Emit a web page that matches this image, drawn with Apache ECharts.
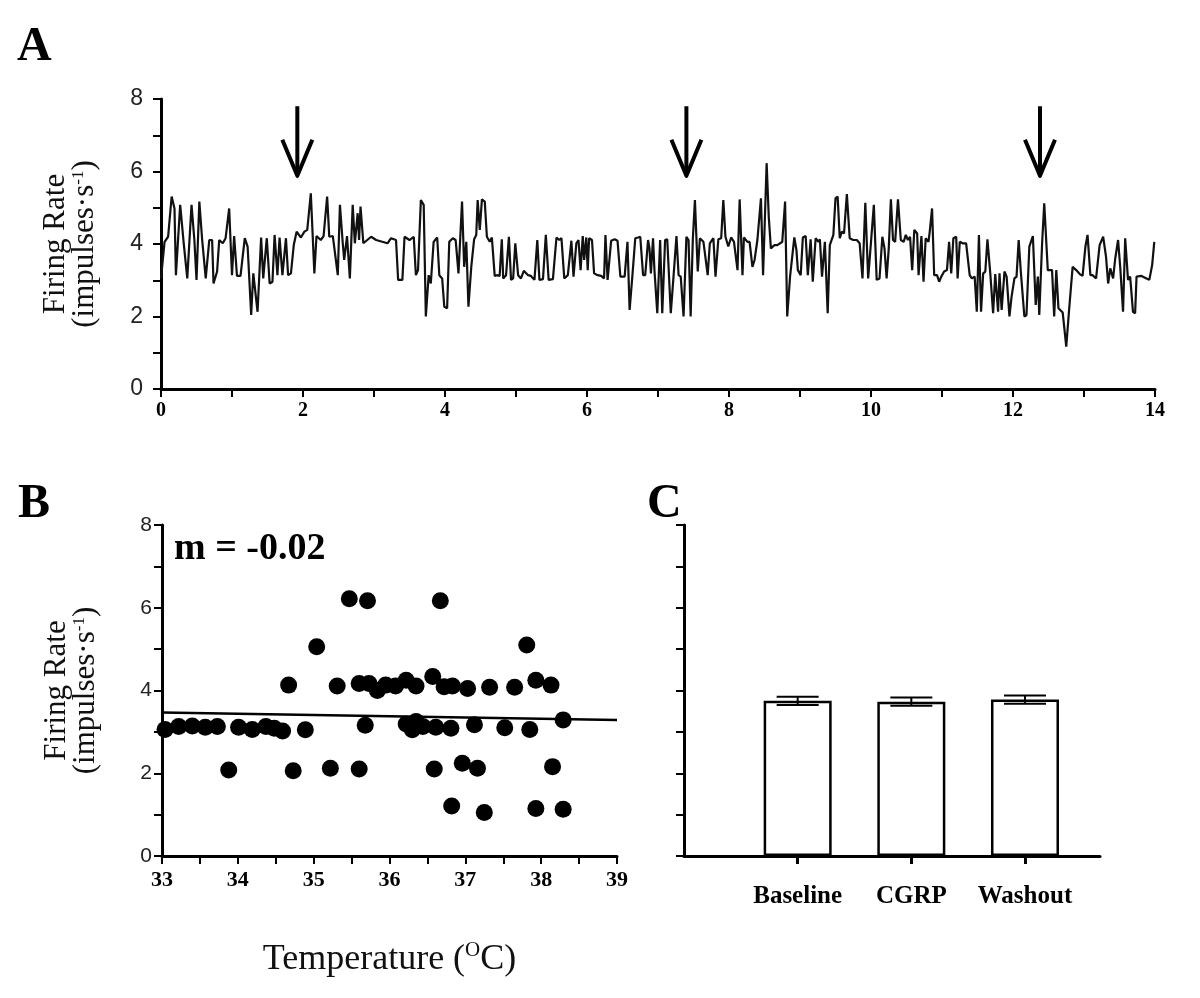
<!DOCTYPE html>
<html>
<head>
<meta charset="utf-8">
<script src="https://cdn.jsdelivr.net/npm/echarts@6/dist/echarts.min.js"></script>
<style>html,body{margin:0;padding:0;background:#fff;}#chart{width:1200px;height:998px;}</style>
</head>
<body>
<div id="chart"></div>
<script>
// ---------- Panel A: firing rate trace ----------
const timeMin = [
0,0.05,0.10,0.15,0.19,0.21,0.27,0.32,0.37,0.43,0.47,0.50,0.54,0.58,0.63,0.68,0.72,0.74,0.79,0.82,
0.87,0.91,0.96,1.00,1.03,1.07,1.12,1.18,1.22,1.27,1.30,1.36,1.41,1.44,1.49,1.53,1.57,1.60,1.64,1.67,
1.71,1.76,1.79,1.83,1.87,1.91,1.97,2.02,2.06,2.11,2.16,2.19,2.25,2.29,2.34,2.37,2.42,2.49,2.52,2.56,
2.58,2.62,2.66,2.70,2.73,2.77,2.79,2.81,2.85,2.96,3.03,3.19,3.24,3.31,3.34,3.40,3.43,3.50,
3.52,3.56,3.59,3.62,3.66,3.70,3.73,3.77,3.80,3.84,3.89,3.92,3.96,3.99,4.03,4.06,4.11,4.15,4.19,4.24,
4.27,4.30,4.33,4.37,4.41,4.44,4.46,4.49,4.52,4.56,4.59,4.63,4.66,4.70,4.73,4.77,4.80,4.82,4.86,4.90,
4.93,4.96,4.99,5.03,5.07,5.11,5.17,5.21,5.26,5.30,5.33,5.38,5.42,5.46,5.52,5.57,5.61,5.64,5.68,5.73,
5.78,5.81,5.85,5.88,5.91,5.94,5.96,5.99,6.01,6.03,6.07,6.10,6.15,6.20,6.24,6.26,6.29,6.34,6.39,6.43,
6.47,6.53,6.57,6.60,6.64,6.68,6.72,6.75,6.79,6.82,6.86,6.88,6.90,6.93,
6.95,6.99,7.03,7.06,7.10,7.13,7.18,7.22,7.26,7.29,7.32,7.36,7.40,7.43,7.46,7.49,7.52,7.56,7.59,7.64,
7.66,7.70,7.73,7.78,7.81,7.85,7.89,7.92,7.95,7.99,8.03,8.07,8.12,8.15,8.19,8.21,8.26,8.29,8.33,8.36,
8.40,8.45,8.48,8.53,8.56,8.59,8.64,8.68,8.72,8.75,8.79,8.82,8.86,8.88,8.92,8.95,8.97,9.01,9.04,9.08,
9.11,9.15,9.18,9.22,9.26,9.28,9.31,9.35,9.39,9.42,9.47,9.50,9.53,9.56,9.59,9.62,9.66,9.70,9.75,9.80,
9.84,9.88,9.92,9.96,10.00,10.04,10.08,10.12,10.16,10.19,10.22,10.25,10.28,10.31,10.34,10.38,10.42,
10.46,10.49,10.52,10.55,10.58,10.61,10.65,10.67,10.71,10.74,10.77,10.81,10.83,10.86,10.89,10.93,10.96,10.99,11.03,11.07,
11.10,11.13,11.16,11.20,11.22,11.25,11.29,11.34,11.39,11.42,11.46,11.49,11.52,11.55,11.58,11.61,11.64,11.68,11.72,11.75,
11.79,11.81,11.84,11.88,11.91,11.95,11.98,12.02,12.05,12.08,12.11,12.16,12.19,12.23,12.28,12.32,12.35,12.37,12.41,12.44,
12.49,12.51,12.55,12.58,12.61,12.64,12.70,12.75,12.79,12.84,12.89,12.94,12.98,13.02,13.05,13.09,13.12,13.17,13.22,13.27,
13.31,13.34,13.37,13.41,13.44,13.48,13.51,13.55,13.58,13.62,13.65,13.69,13.72,13.74,13.81,13.88,13.92,13.96,13.99
];
const firingRate = [
3.05,4.06,4.20,5.31,4.98,3.14,5.08,4.02,3.05,5.08,4.11,3.01,5.17,4.11,3.05,4.11,4.11,2.91,3.24,4.11,
4.02,4.16,4.98,3.14,4.22,3.12,3.12,4.16,3.93,2.04,3.19,2.13,4.18,3.05,4.16,2.91,2.96,4.25,3.14,4.18,
3.14,4.16,3.14,3.19,3.97,4.34,4.18,4.34,4.39,5.40,3.19,4.22,4.11,4.22,5.31,4.20,4.22,3.14,5.08,4.02,
3.56,4.22,3.05,5.08,4.02,4.85,4.11,5.03,4.02,4.20,4.11,4.02,4.16,4.11,3.01,3.01,4.20,4.11,
4.16,4.20,3.14,3.28,5.21,5.08,2.00,3.14,2.91,4.06,4.18,3.14,3.05,2.27,2.23,4.06,4.16,4.11,3.19,5.17,
3.37,4.06,2.27,3.37,4.13,4.25,5.21,4.39,5.23,5.17,4.20,4.06,4.18,3.12,3.14,3.12,4.13,3.05,3.14,4.20,
3.01,3.05,4.02,3.14,3.05,3.26,3.14,3.12,3.01,4.11,3.01,3.03,4.25,3.01,3.03,4.18,4.11,4.16,3.05,3.14,
4.09,3.10,4.02,4.11,3.28,4.22,3.56,4.18,3.28,4.16,4.11,3.19,3.14,3.12,3.05,4.25,3.01,4.09,4.13,4.09,
3.10,3.10,4.06,2.18,3.14,4.16,4.18,4.20,3.14,3.14,4.11,3.88,3.19,4.16,
3.28,2.09,4.11,2.09,4.11,4.13,2.09,3.14,4.22,3.14,3.10,2.00,4.20,4.11,2.00,4.11,5.21,3.24,4.16,4.06,
4.11,3.14,4.02,4.16,3.10,4.13,4.16,5.21,4.20,3.93,4.18,4.06,3.28,5.23,3.14,4.18,4.06,4.06,3.37,3.56,
4.11,5.26,3.14,6.23,4.75,3.88,3.97,3.97,4.02,4.06,5.17,2.00,3.10,3.05,4.18,3.83,3.28,3.14,4.18,4.22,
3.14,4.13,2.96,4.16,4.06,4.13,3.10,4.06,2.09,3.97,4.25,5.26,5.31,4.16,4.34,4.29,5.38,4.16,4.11,4.11,
4.02,3.05,5.14,3.05,4.06,5.08,3.01,3.05,4.20,3.88,3.05,3.88,5.23,4.11,4.06,5.23,4.11,
4.06,4.25,4.11,4.20,3.28,4.39,4.29,3.14,4.22,2.96,4.16,4.06,4.39,4.98,3.14,3.14,2.96,3.10,3.24,3.28,
4.06,3.19,4.16,4.20,3.05,4.06,4.02,4.02,3.14,3.05,3.10,2.13,4.25,2.13,3.19,3.24,4.13,3.19,2.09,3.17,
2.13,3.19,2.18,3.24,3.10,2.00,2.55,3.05,3.10,4.11,3.24,2.00,2.04,3.93,4.22,2.32,3.10,2.04,4.02,5.12,
3.28,3.24,3.28,2.00,3.28,2.23,2.11,1.17,2.18,3.37,3.28,3.17,3.12,3.93,4.25,3.14,3.14,3.05,3.97,4.20,
3.65,2.91,3.33,3.05,3.60,4.11,3.37,2.13,4.16,3.01,3.10,2.13,2.09,3.10,3.12,3.05,3.01,3.42,4.06
];
const arrowTimes = [1.92, 7.40, 12.38];
const arrowTop = 7.8;
const arrowTip = 5.88;
const xTicksA = [0, 2, 4, 6, 8, 10, 12, 14];

// ---------- Panel B: firing rate vs temperature ----------
const tempC = [
33.04,33.22,33.40,33.57,33.73,33.88,34.01,34.19,34.37,34.48,34.59,34.67,34.73,34.89,35.04,35.22,35.31,35.47,35.60,35.60,
35.68,35.71,35.73,35.84,35.95,36.08,36.22,36.35,36.22,36.30,36.35,36.44,36.61,36.57,36.67,36.72,36.83,37.03,36.59,36.81,
36.82,36.96,37.12,37.16,37.25,37.32,37.52,37.65,37.81,37.85,37.93,37.93,38.13,38.15,38.29,38.29
];
const rateB = [
3.06,3.13,3.14,3.11,3.13,2.08,3.11,3.06,3.13,3.09,3.02,4.13,2.06,3.05,5.06,2.12,4.11,6.22,2.10,4.17,
3.16,6.17,4.17,4.00,4.13,4.11,4.25,4.11,3.19,3.05,3.25,3.13,3.11,4.34,6.17,4.09,4.11,4.05,2.10,3.09,
1.21,2.24,3.17,2.12,1.05,4.08,3.10,4.08,5.10,3.06,4.25,1.15,4.13,2.16,3.29,1.13
];
const fitTemp = [33, 39];
const fitRate = [3.47, 3.29];
const slopeText = 'm = -0.02';

// ---------- Panel C: mean firing rate ----------
const conditions = ['Baseline', 'CGRP', 'Washout'];
const condPos = [1, 2, 3];
const meanRate = [3.75, 3.73, 3.78];
const semRate = [0.10, 0.10, 0.10];

const serif = 'Liberation Serif';
const sans = 'Liberation Sans';

function yName() {
  return {
    name: '{t|Firing Rate}\n{t|(impulses·s}{s|-1}{t|)}',
    nameLocation: 'middle', nameGap: 62, nameRotate: 90,
    nameTextStyle: {
      color: '#111',
      rich: {
        t: { fontFamily: serif, fontSize: 31, color: '#111', lineHeight: 29 },
        s: { fontFamily: serif, fontSize: 17, color: '#111', verticalAlign: 'top', lineHeight: 29 }
      }
    }
  };
}
const axLine = { show: true, onZero: false, lineStyle: { color: '#000', width: 3 } };
const axTick = { show: true, inside: false, length: 8, lineStyle: { color: '#000', width: 2 } };

const chart = echarts.init(document.getElementById('chart'), null, { renderer: 'canvas' });
const option = {
  backgroundColor: '#fff',
  animation: false,
  grid: [
    { left: 161, top: 99, width: 994, height: 290 },
    { left: 162, top: 525, width: 455, height: 331 },
    { left: 684, top: 525, width: 416, height: 331 }
  ],
  xAxis: [
    { gridIndex: 0, type: 'value', min: 0, max: 14, interval: 1,
      axisLine: axLine, axisTick: axTick, splitLine: { show: false },
      axisLabel: { margin: 12, fontFamily: serif, fontWeight: 'bold', fontSize: 20, color: '#000',
        formatter: v => xTicksA.includes(v) ? String(v) : '' } },
    { gridIndex: 1, type: 'value', min: 33, max: 39, interval: 0.5,
      axisLine: axLine, axisTick: axTick, splitLine: { show: false },
      axisLabel: { margin: 13, fontFamily: serif, fontWeight: 'bold', fontSize: 22, color: '#000',
        formatter: v => Number.isInteger(v) ? String(v) : '' },
      name: '{t|Temperature (}{s|O}{t|C)}', nameLocation: 'middle', nameGap: 84,
      nameTextStyle: { rich: {
        t: { fontFamily: serif, fontSize: 36, color: '#111', lineHeight: 40 },
        s: { fontFamily: serif, fontSize: 21, color: '#111', verticalAlign: 'top', lineHeight: 40 } } } },
    { gridIndex: 2, type: 'value', min: 0, max: 3.66,
      axisLine: axLine,
      axisTick: { show: true, inside: false, length: 8, lineStyle: { color: '#000', width: 3 }, customValues: condPos },
      splitLine: { show: false },
      axisLabel: { margin: 28, fontFamily: serif, fontWeight: 'bold', fontSize: 25, color: '#000',
        customValues: condPos, formatter: v => conditions[condPos.indexOf(v)] || '' } }
  ],
  yAxis: [
    Object.assign({ gridIndex: 0, type: 'value', min: 0, max: 8, interval: 1,
      axisLine: axLine, axisTick: axTick, splitLine: { show: false },
      axisLabel: { margin: 18, fontFamily: sans, fontSize: 23, color: '#222',
        formatter: v => v % 2 === 0 ? String(v) : '' } }, yName()),
    Object.assign({ gridIndex: 1, type: 'value', min: 0, max: 8, interval: 1,
      axisLine: axLine, axisTick: axTick, splitLine: { show: false },
      axisLabel: { margin: 10, fontFamily: sans, fontSize: 21, color: '#222',
        formatter: v => v % 2 === 0 ? String(v) : '' } }, yName()),
    { gridIndex: 2, type: 'value', min: 0, max: 8, interval: 1,
      axisLine: axLine, axisTick: axTick, splitLine: { show: false },
      axisLabel: { show: false } }
  ],
  series: [
    { type: 'line', xAxisIndex: 0, yAxisIndex: 0, showSymbol: false, symbol: 'none',
      lineStyle: { color: '#111', width: 2.2 },
      data: timeMin.map((t, i) => [t, firingRate[i]]) },
    { type: 'custom', xAxisIndex: 0, yAxisIndex: 0,
      data: arrowTimes.map(t => [t, arrowTop, arrowTip]),
      renderItem: (params, api) => {
        const top = api.coord([api.value(0), api.value(1)]);
        const tip = api.coord([api.value(0), api.value(2)]);
        return { type: 'group', children: [
          { type: 'line', shape: { x1: top[0], y1: top[1], x2: tip[0], y2: tip[1] - 2 },
            style: { stroke: '#000', lineWidth: 4 } },
          { type: 'polyline', shape: { points: [[tip[0] - 15, tip[1] - 36], [tip[0], tip[1]], [tip[0] + 15, tip[1] - 36]] },
            style: { stroke: '#000', lineWidth: 4, fill: null, lineJoin: 'round' } }
        ] };
      } },
    { type: 'scatter', xAxisIndex: 1, yAxisIndex: 1, symbol: 'circle', symbolSize: 17,
      itemStyle: { color: '#000', opacity: 1 }, data: tempC.map((t, i) => [t, rateB[i]]) },
    { type: 'line', xAxisIndex: 1, yAxisIndex: 1, symbol: 'none', lineStyle: { color: '#000', width: 2.5 },
      data: fitTemp.map((t, i) => [t, fitRate[i]]), z: 3 },
    { type: 'bar', xAxisIndex: 2, yAxisIndex: 2, barWidth: 68,
      itemStyle: { color: '#fff', borderColor: '#000', borderWidth: 2.5 },
      data: condPos.map((p, i) => [p, meanRate[i]]) },
    { type: 'custom', xAxisIndex: 2, yAxisIndex: 2, z: 5,
      data: condPos.map((p, i) => [p, meanRate[i], semRate[i]]),
      renderItem: (params, api) => {
        const x = api.value(0), m = api.value(1), e = api.value(2);
        const hi = api.coord([x, m + e]), lo = api.coord([x, m - e]);
        const w = 21, st = { stroke: '#000', lineWidth: 2 };
        return { type: 'group', children: [
          { type: 'line', shape: { x1: hi[0], y1: hi[1], x2: lo[0], y2: lo[1] }, style: st },
          { type: 'line', shape: { x1: hi[0] - w, y1: hi[1], x2: hi[0] + w, y2: hi[1] }, style: st },
          { type: 'line', shape: { x1: lo[0] - w, y1: lo[1], x2: lo[0] + w, y2: lo[1] }, style: st }
        ] };
      } }
  ],
  graphic: [
    { type: 'text', left: 17, top: 24, style: { text: 'A', font: 'bold 48px "Liberation Serif"', fill: '#000' } },
    { type: 'text', left: 18, top: 481, style: { text: 'B', font: 'bold 48px "Liberation Serif"', fill: '#000' } },
    { type: 'text', left: 647, top: 481, style: { text: 'C', font: 'bold 48px "Liberation Serif"', fill: '#000' } },
    { type: 'text', left: 174, top: 530, style: { text: slopeText, font: 'bold 38px "Liberation Serif"', fill: '#000' } }
  ]
};
chart.setOption(option);
</script>
</body>
</html>
